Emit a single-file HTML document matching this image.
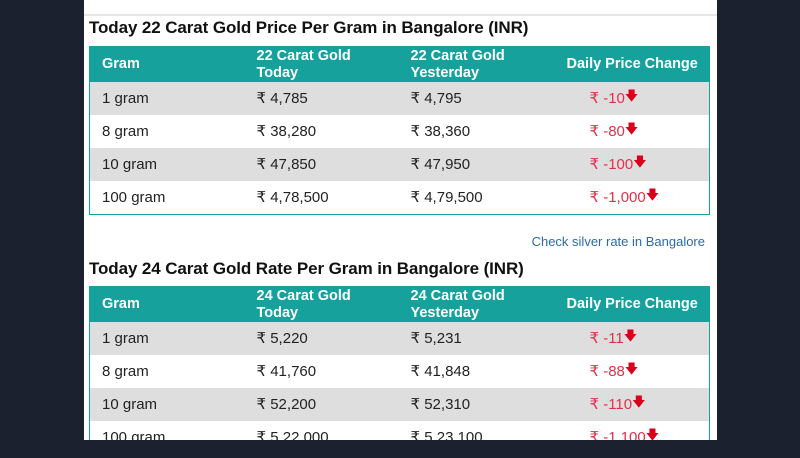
<!DOCTYPE html>
<html><head><meta charset="utf-8"><style>
body{margin:0;width:800px;height:458px;background:#1b212e;font-family:"Liberation Sans",sans-serif;overflow:hidden;position:relative}
#panel{position:absolute;left:84px;top:0;width:633px;height:440px;background:#fff;overflow:hidden}
.sep{position:absolute;left:0;top:14px;width:633px;height:2px;background:#e6e6e6}
h2{position:absolute;left:5px;margin:0;font-size:17px;font-weight:bold;color:#111;letter-spacing:-0.1px}
table{position:absolute;left:5px;width:621px;border-collapse:collapse;border:1px solid #18a09c;font-size:15px;color:#222}
th{background:#17a19d;color:#fff;text-align:left;font-size:14.5px;font-weight:bold;height:35px;line-height:17px;padding:0 0 0 12px}
td{height:33px;line-height:33px;padding:0 0 0 12px;vertical-align:top;white-space:nowrap}
td span.t{display:inline-block;line-height:33px;vertical-align:top}
tr.g td{background:#dedede}
.c{color:#e0304a;padding-left:0}
.ar{color:#d8001a;font-size:13px;vertical-align:3px;line-height:10px}
.link{position:absolute;right:12px;top:234px;font-size:13px;color:#2a6aa8}
</style></head><body>
<div id="panel">
<div class="sep"></div>
<h2 style="top:18px">Today 22 Carat Gold Price Per Gram in Bangalore (INR)</h2>
<table style="top:46px">
<colgroup><col style="width:155px"><col style="width:154px"><col style="width:155px"><col></colgroup>
<tr><th>Gram</th><th>22 Carat Gold<br>Today</th><th>22 Carat Gold<br>Yesterday</th><th style="padding-left:13px">Daily Price Change</th></tr>
<tr class="g"><td><span class="t">1 gram</span></td><td>₹ 4,785</td><td>₹ 4,795</td><td class="c" style="padding-left:36px">₹ -10<span class="ar">🡇</span></td></tr>
<tr><td><span class="t">8 gram</span></td><td>₹ 38,280</td><td>₹ 38,360</td><td class="c" style="padding-left:36px">₹ -80<span class="ar">🡇</span></td></tr>
<tr class="g"><td><span class="t">10 gram</span></td><td>₹ 47,850</td><td>₹ 47,950</td><td class="c" style="padding-left:36px">₹ -100<span class="ar">🡇</span></td></tr>
<tr><td><span class="t">100 gram</span></td><td>₹ 4,78,500</td><td>₹ 4,79,500</td><td class="c" style="padding-left:36px">₹ -1,000<span class="ar">🡇</span></td></tr>
</table>
<a class="link">Check silver rate in Bangalore</a>
<h2 style="top:259px">Today 24 Carat Gold Rate Per Gram in Bangalore (INR)</h2>
<table style="top:286px">
<colgroup><col style="width:155px"><col style="width:154px"><col style="width:155px"><col></colgroup>
<tr><th>Gram</th><th>24 Carat Gold<br>Today</th><th>24 Carat Gold<br>Yesterday</th><th style="padding-left:13px">Daily Price Change</th></tr>
<tr class="g"><td><span class="t">1 gram</span></td><td>₹ 5,220</td><td>₹ 5,231</td><td class="c" style="padding-left:36px">₹ -11<span class="ar">🡇</span></td></tr>
<tr><td><span class="t">8 gram</span></td><td>₹ 41,760</td><td>₹ 41,848</td><td class="c" style="padding-left:36px">₹ -88<span class="ar">🡇</span></td></tr>
<tr class="g"><td><span class="t">10 gram</span></td><td>₹ 52,200</td><td>₹ 52,310</td><td class="c" style="padding-left:36px">₹ -110<span class="ar">🡇</span></td></tr>
<tr><td><span class="t">100 gram</span></td><td>₹ 5,22,000</td><td>₹ 5,23,100</td><td class="c" style="padding-left:36px">₹ -1,100<span class="ar">🡇</span></td></tr>
</table>
</div>
</body></html>
